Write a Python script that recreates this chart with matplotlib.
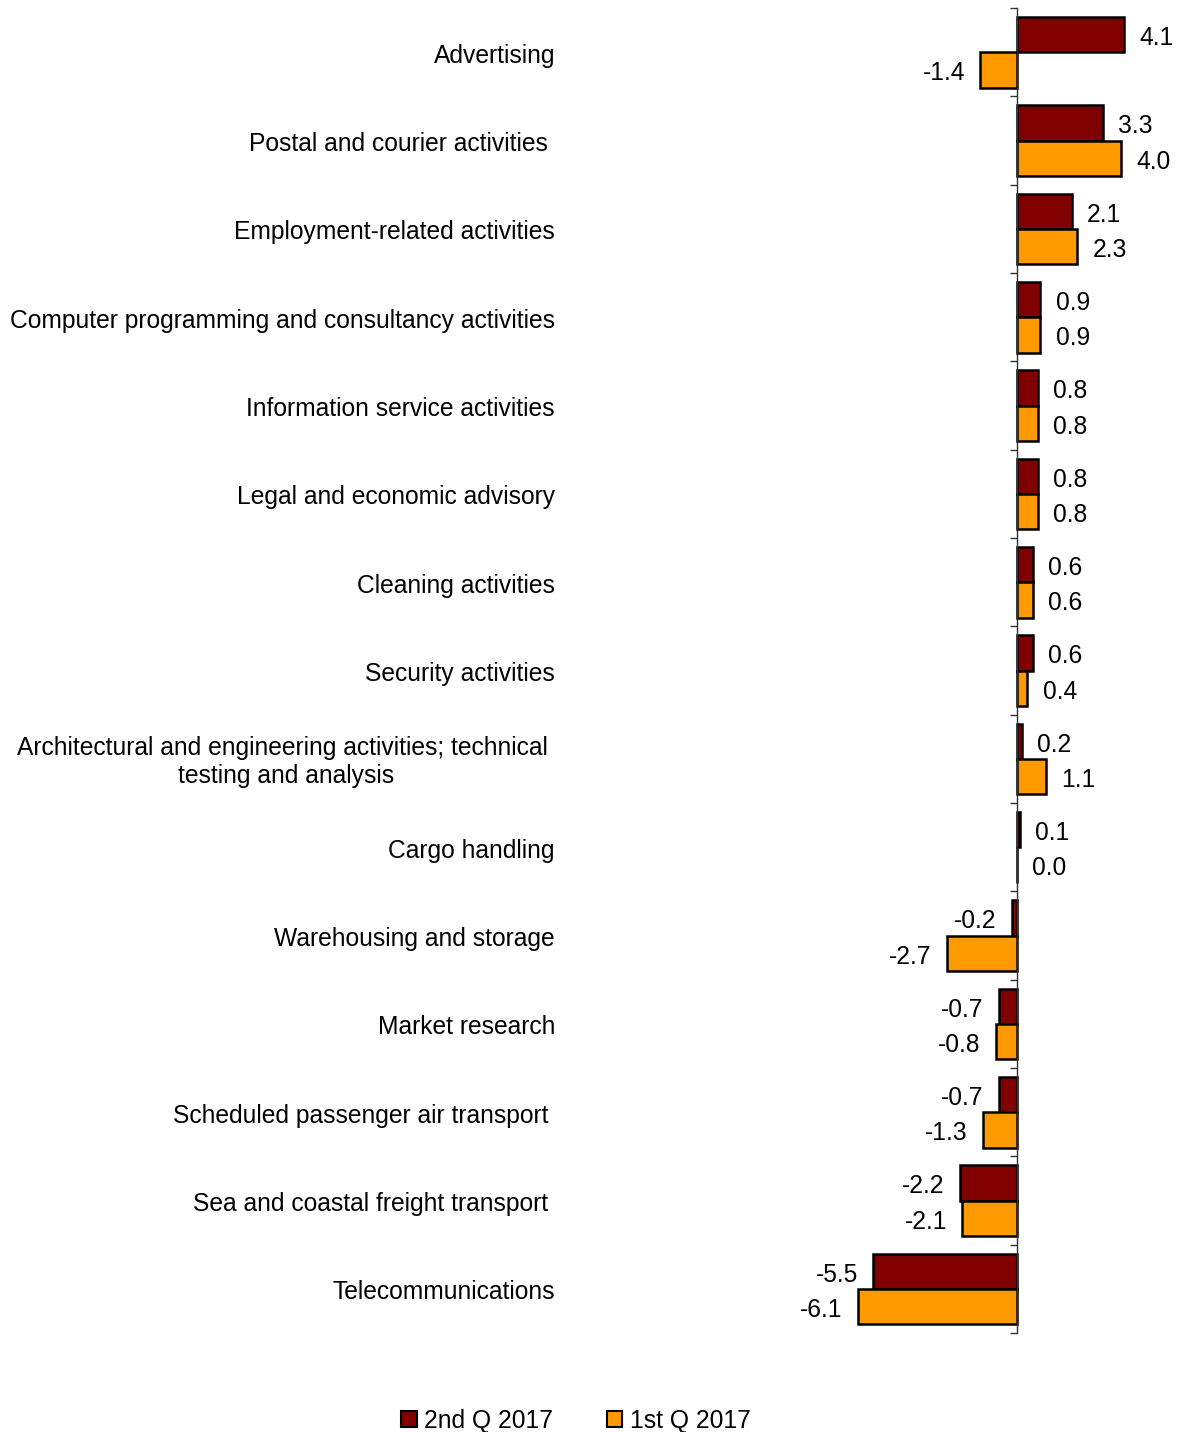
import matplotlib
matplotlib.use("Agg")
import numpy as np
import matplotlib.pyplot as plt
import matplotlib.patches as mpatches

plt.rcParams['font.family'] = ['Liberation Sans', 'DejaVu Sans']

categories = [
    "Advertising",
    "Postal and courier activities ",
    "Employment-related activities",
    "Computer programming and consultancy activities",
    "Information service activities",
    "Legal and economic advisory",
    "Cleaning activities",
    "Security activities",
    "Architectural and engineering activities; technical \ntesting and analysis",
    "Cargo handling",
    "Warehousing and storage",
    "Market research",
    "Scheduled passenger air transport ",
    "Sea and coastal freight transport ",
    "Telecommunications",
]
q2_2017 = [4.1, 3.3, 2.1, 0.9, 0.8, 0.8, 0.6, 0.6, 0.2, 0.1, -0.2, -0.7, -0.7, -2.2, -5.5]
q1_2017 = [-1.4, 4.0, 2.3, 0.9, 0.8, 0.8, 0.6, 0.4, 1.1, 0.0, -2.7, -0.8, -1.3, -2.1, -6.1]
series_names = ["2nd Q 2017", "1st Q 2017"]
series_colors = ["#800000", "#FF9900"]

FS = 17.7
W, H = 1178, 1432
fig = plt.figure(figsize=(W / 100, H / 100), dpi=100)
ax = fig.add_axes([0, 1 - 1333 / H, 1, (1333 - 8) / H])

y = np.arange(len(categories))
bh = 0.4
for k, (vals, col) in enumerate(zip([q2_2017, q1_2017], series_colors)):
    pos = y - bh / 2 + k * bh
    ax.barh(pos, vals, height=bh, color=col, edgecolor='black', linewidth=1.8)
    for p, v in zip(pos, vals):
        off = 11 if v >= 0 else -11
        ax.annotate(f"{v:.1f}", (v, p), xytext=(off, -2.5), textcoords='offset points',
                    ha='left' if v >= 0 else 'right', va='center', fontsize=FS)

# scale: about 26.1 px per unit, zero at x=1017
ppu = 26.1
ax.set_xlim(-1017 / ppu, (W - 1017) / ppu)
ax.set_ylim(len(categories) - 0.5, -0.5)

for s in ['top', 'right', 'bottom']:
    ax.spines[s].set_visible(False)
ax.spines['left'].set_position(('data', 0))
ax.spines['left'].set_color('#333333')
ax.spines['left'].set_linewidth(1.0)
ax.set_xticks([])
ax.set_yticks(np.arange(len(categories) + 1) - 0.5)
ax.set_yticklabels([])
ax.tick_params(axis='y', direction='out', length=5, width=1.0, color='#333333')
ax.set_facecolor('none')

tr = ax.get_yaxis_transform()
for yi, cat in zip(y, categories):
    ax.annotate(cat, (555 / W, yi), xycoords=tr, xytext=(0, -2.5), textcoords='offset points',
                ha='right', va='center', multialignment='center', fontsize=FS,
                linespacing=1.2)

handles = [mpatches.Patch(facecolor=c, edgecolor='black', linewidth=1.5, label=n)
           for n, c in zip(series_names, series_colors)]
fig.legend(handles=handles, loc='center', bbox_to_anchor=(576 / W, 1 - 1421 / H),
           ncol=2, frameon=False, fontsize=FS, handlelength=0.62, handleheight=0.62,
           handletextpad=0.3, columnspacing=2.2, borderaxespad=0)

fig.savefig("out.png", dpi=100)
